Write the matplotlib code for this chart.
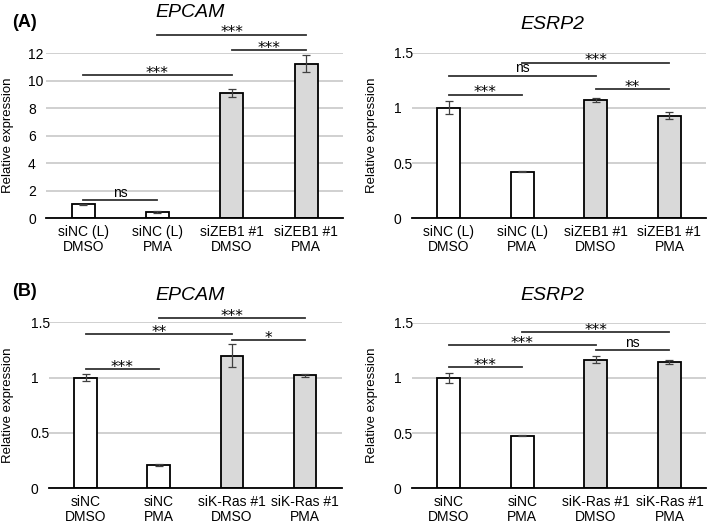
import numpy as np
import matplotlib
matplotlib.use("Agg")
import matplotlib.pyplot as plt

plt.rcParams['font.family'] = ['Liberation Sans', 'DejaVu Sans']

# ---- data ----
labels_A = ["siNC (L)\nDMSO", "siNC (L)\nPMA", "siZEB1 #1\nDMSO", "siZEB1 #1\nPMA"]
labels_B = ["siNC\nDMSO", "siNC\nPMA", "siK-Ras #1\nDMSO", "siK-Ras #1\nPMA"]

epcam_A = [1.0, 0.45, 9.12, 11.25]
epcam_A_err = [0.06, 0.05, 0.27, 0.65]
esrp2_A = [1.0, 0.42, 1.07, 0.93]
esrp2_A_err = [0.06, 0.005, 0.02, 0.03]

epcam_B = [1.0, 0.21, 1.20, 1.02]
epcam_B_err = [0.03, 0.01, 0.10, 0.015]
esrp2_B = [1.0, 0.475, 1.165, 1.145]
esrp2_B_err = [0.045, 0.005, 0.03, 0.015]

# significance brackets: (from bar, to bar, height, label)
sig_epcam_A = [(0, 1, 1.31, "ns"), (0, 2, 10.4, "***"), (2, 3, 12.2, "***"), (1, 3, 13.35, "***")]
sig_esrp2_A = [(0, 1, 1.12, "***"), (0, 2, 1.29, "ns"), (1, 3, 1.41, "***"), (2, 3, 1.17, "**")]
sig_epcam_B = [(0, 1, 1.08, "***"), (0, 2, 1.39, "**"), (1, 3, 1.535, "***"), (2, 3, 1.34, "*")]
sig_esrp2_B = [(0, 1, 1.10, "***"), (0, 2, 1.295, "***"), (1, 3, 1.415, "***"), (2, 3, 1.25, "ns")]

bar_colors = ["white", "white", "#d9d9d9", "#d9d9d9"]


def draw_panel(ax, vals, errs, labels, ymax, step, sigs, fmt, ylab_x):
    x = np.arange(len(vals))
    ax.bar(x, vals, width=0.31, color=bar_colors, edgecolor="black", linewidth=1.3, zorder=3)
    ax.errorbar(x, vals, yerr=errs, fmt="none", ecolor="#404040", elinewidth=0.9,
                capsize=3, capthick=0.9, zorder=4)
    ax.set_xlim(-0.5, 3.5)
    ax.set_ylim(0, ymax)
    ticks = np.arange(0, ymax + step / 2, step)
    ax.set_yticks(ticks)
    ax.set_yticklabels([fmt(t) for t in ticks], fontsize=10, ha="left")
    ax.set_xticks(x)
    ax.set_xticklabels(labels, fontsize=10, linespacing=1.05)
    ax.tick_params(axis="x", length=0, pad=5)
    ax.tick_params(axis="y", length=0, pad=13)
    ax.yaxis.grid(True, color="#c8c8c8", linewidth=1.2, zorder=0)
    ax.set_axisbelow(True)
    for s in ["top", "right", "left"]:
        ax.spines[s].set_visible(False)
    ax.spines["bottom"].set_linewidth(1.3)
    ax.spines["bottom"].set_zorder(5)
    ax.set_ylabel("Relative expression", fontsize=9.5, va="center")
    ax.yaxis.set_label_coords(ylab_x, 0.5)
    for a, b, h, t in sigs:
        ax.plot([a, b], [h, h], color="#333333", linewidth=1.3, clip_on=False, zorder=6)
        if t == "ns":
            ax.annotate(t, ((a + b) / 2, h), xytext=(0, 2.5), textcoords="offset points",
                        ha="center", va="baseline", fontsize=10, annotation_clip=False)
        else:
            ax.annotate(t, ((a + b) / 2, h), xytext=(0, -2), textcoords="offset points",
                        ha="center", va="baseline", fontsize=11, family="DejaVu Sans",
                        annotation_clip=False)


fig = plt.figure(figsize=(7.09, 5.27), dpi=100)

ax1 = fig.add_axes([0.065, 0.586, 0.419, 0.313])
ax2 = fig.add_axes([0.581, 0.586, 0.415, 0.314])
ax3 = fig.add_axes([0.069, 0.0734, 0.413, 0.315])
ax4 = fig.add_axes([0.581, 0.0734, 0.415, 0.3143])

draw_panel(ax1, epcam_A, epcam_A_err, labels_A, 12, 2, sig_epcam_A, lambda t: "%d" % t, -0.128)
draw_panel(ax2, esrp2_A, esrp2_A_err, labels_A, 1.5, 0.5, sig_esrp2_A, lambda t: "%g" % t, -0.136)
draw_panel(ax3, epcam_B, epcam_B_err, labels_B, 1.5, 0.5, sig_epcam_B, lambda t: "%g" % t, -0.140)
draw_panel(ax4, esrp2_B, esrp2_B_err, labels_B, 1.5, 0.5, sig_esrp2_B, lambda t: "%g" % t, -0.136)

fig.text(0.268, 0.977, "EPCAM", fontsize=14, style="italic", ha="center", va="center")
fig.text(0.779, 0.953, "ESRP2", fontsize=14, style="italic", ha="center", va="center")
fig.text(0.268, 0.440, "EPCAM", fontsize=14, style="italic", ha="center", va="center")
fig.text(0.779, 0.440, "ESRP2", fontsize=14, style="italic", ha="center", va="center")

fig.text(0.035, 0.958, "(A)", fontsize=13, fontweight="bold", ha="center", va="center")
fig.text(0.035, 0.446, "(B)", fontsize=13, fontweight="bold", ha="center", va="center")

fig.savefig("out.png", dpi=100)
